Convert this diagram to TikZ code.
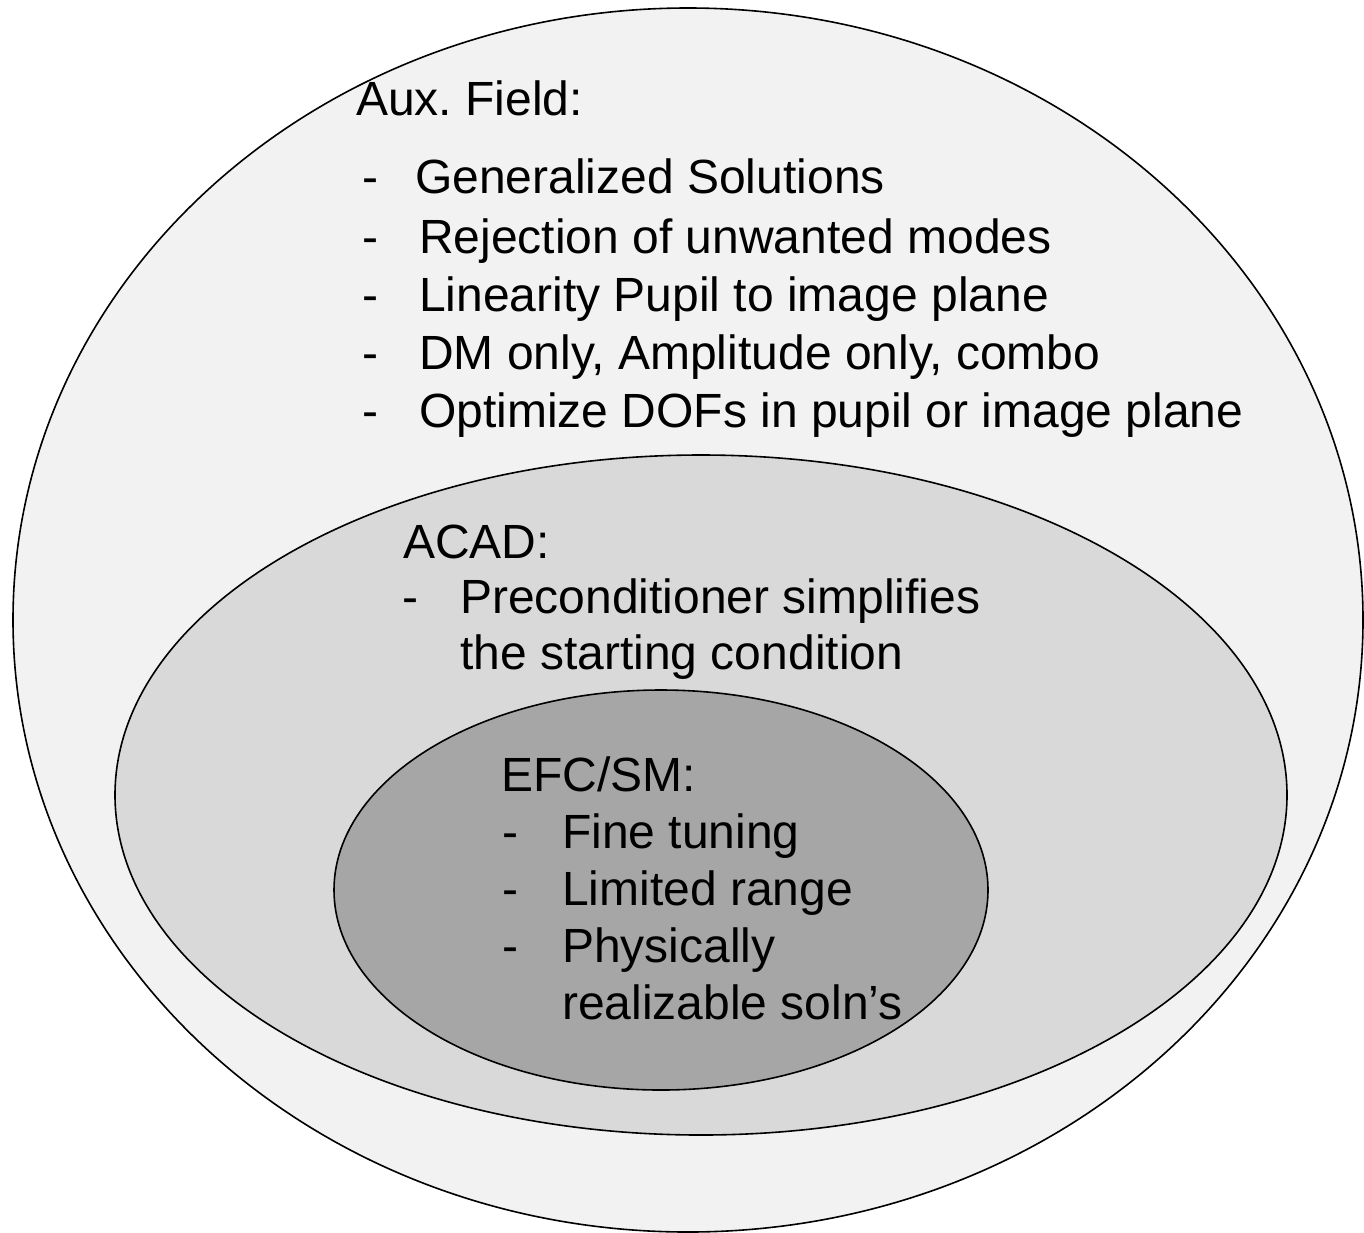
\documentclass[tikz,border=0pt]{standalone}
\usepackage{fontspec}
\setmainfont{Liberation Sans}
\usepackage{tikz}
\usetikzlibrary{positioning}
\tikzset{ring/.style = {draw = black, line width = 1.6pt}}
\tikzset{txt/.style = {anchor = base west, inner sep = 0, font = \fontsize{48}{58}\selectfont}}
\definecolor{lgray}{gray}{0.949}
\definecolor{mgray}{gray}{0.851}
\definecolor{dgray}{gray}{0.651}

\begin{document}
\begin{tikzpicture}[x=1pt, y=-1pt]
    \useasboundingbox (0, 0) rectangle (1364, 1232);
    \draw [ring, fill=lgray] (688, 620) ellipse [x radius=675, y radius=612];
    \draw [ring, fill=mgray] (701, 795) ellipse [x radius=586, y radius=340];
    \draw [ring, fill=dgray] (661, 890) ellipse [x radius=327, y radius=200];
    % outer ring
    \node [txt] (aux) at (356, 115) {Aux.\ Field:};
    \node [txt] (auxd1) at (362, 193) {-};
    \node [txt] (aux1) at (415, 193) {Generalized Solutions};
    \foreach \t [count=\i from 2] in {Rejection of unwanted modes, Linearity Pupil to image plane, {DM only, Amplitude only, combo}, Optimize DOFs in pupil or image plane}{
      \node [txt] (auxd\i) at (362, 137+58*\i) {-};
      \node [txt] (aux\i) at (419, 137+58*\i) {\t};
    }
    % middle ring
    \node [txt] (acad) at (403, 558) {ACAD:};
    \node [txt] (acadd1) at (402, 613) {-};
    \node [txt] (acad1) at (460, 613) {Preconditioner simplifies};
    \node [txt] (acad2) at (460, 669) {the starting condition};
    % inner ring
    \node [txt] (efc) at (501, 791) {EFC/SM:};
    \foreach \t [count=\i] in {Fine tuning, Limited range, Physically}{
      \node [txt] (efcd\i) at (502, 791+57*\i) {-};
      \node [txt] (efc\i) at (562, 791+57*\i) {\t};
    }
    \node [txt] (efc4) at (562, 1019) {realizable soln’s};
\end{tikzpicture}
\end{document}
